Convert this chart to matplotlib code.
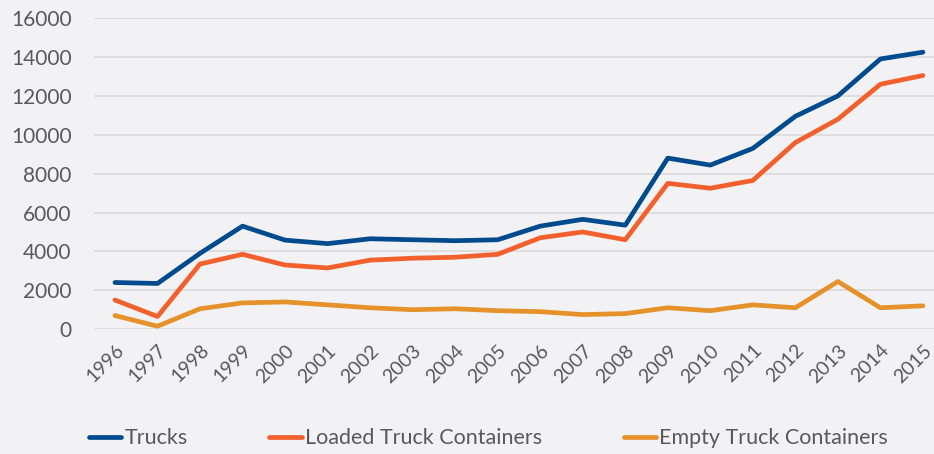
import matplotlib.pyplot as plt

years = [str(y) for y in range(1996, 2016)]
trucks = [2400, 2350, 3900, 5300, 4580, 4400, 4650, 4600, 4550, 4600,
          5300, 5650, 5350, 8800, 8440, 9300, 10950, 12000, 13900, 14250]
loaded = [1500, 650, 3350, 3850, 3300, 3150, 3550, 3650, 3700, 3850,
          4700, 5000, 4600, 7500, 7250, 7650, 9600, 10800, 12600, 13050]
empty = [700, 150, 1050, 1350, 1400, 1250, 1100, 1000, 1050, 950,
         900, 750, 800, 1100, 950, 1250, 1100, 2450, 1100, 1200]

plt.rcParams['font.family'] = ['Lato', 'DejaVu Sans']
bg = '#f2f2f4'
txt = '#595959'

fig = plt.figure(figsize=(9.34, 4.54), dpi=100, facecolor=bg)
ax = fig.add_axes([0.1006, 0.275, 0.8994, 0.685], facecolor=bg)

x = range(len(years))
ax.plot(x, trucks, color='#004b8d', lw=3.4, label='Trucks', solid_capstyle='round')
ax.plot(x, loaded, color='#f2612d', lw=3.4, label='Loaded Truck Containers', solid_capstyle='round')
ax.plot(x, empty, color='#e6922a', lw=3.4, label='Empty Truck Containers', solid_capstyle='round')

ax.set_ylim(0, 16000)
ax.set_xlim(-0.494, 19.26)
ax.set_yticks(range(0, 16001, 2000))
ax.yaxis.grid(True, color='#d9d9d9', lw=1.2)
ax.set_axisbelow(True)
for s in ax.spines.values():
    s.set_visible(False)
ax.tick_params(axis='both', length=0, colors=txt, labelsize=15)
ax.tick_params(axis='y', pad=16)
ax.set_xticks(list(x))
ax.set_xticklabels(years, rotation=45, ha='right', rotation_mode='anchor')
ax.tick_params(axis='x', pad=9, labelsize=14)

leg = fig.legend(loc='lower center', ncol=3, frameon=False, fontsize=15.5,
                 bbox_to_anchor=(0.523, -0.03), handlelength=1.5, columnspacing=3.8,
                 handletextpad=0.15)
for t in leg.get_texts():
    t.set_color(txt)

fig.savefig('out.png', dpi=100, facecolor=bg)
